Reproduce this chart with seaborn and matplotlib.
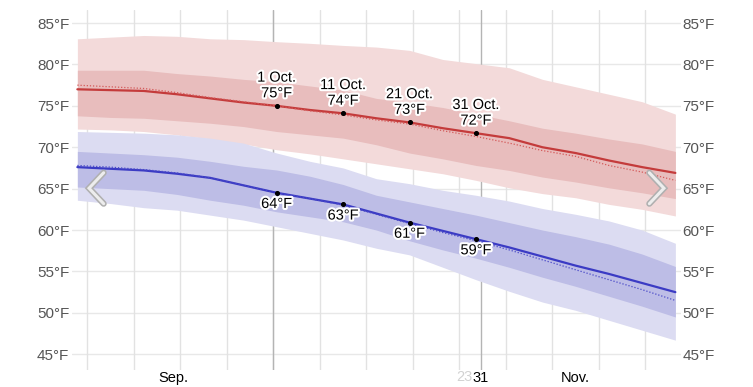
import numpy as np
import pandas as pd
import matplotlib
matplotlib.use("Agg")
import matplotlib.pyplot as plt
import matplotlib.patheffects as pe
import seaborn as sns

# day 0 = 1 Sep, one value every 5 days up to 30 Nov
days = [0, 5, 10, 15, 20, 25, 30, 35, 40, 45, 50, 55, 60, 65, 70, 75, 80, 85, 90]

hi_p90 = [83.1, 83.3, 83.5, 83.4, 83.1, 83.0, 82.75, 82.55, 82.3, 82.1, 81.7, 80.6, 80.1, 79.6, 78.2, 77.3, 76.4, 75.5, 74.0]
hi_p75 = [79.3, 79.3, 79.3, 78.9, 78.6, 78.2, 77.9, 77.4, 76.9, 75.9, 75.4, 74.8, 74.0, 73.2, 72.3, 71.7, 71.0, 70.4, 69.5]
hi_avg = [77.0, 76.9, 76.8, 76.4, 75.9, 75.4, 75.0, 74.5, 74.1, 73.5, 73.0, 72.3, 71.7, 71.1, 70.0, 69.3, 68.4, 67.6, 66.9]
hi_old = [77.5, 77.3, 77.1, 76.6, 76.0, 75.5, 75.0, 74.4, 73.9, 73.3, 72.8, 72.0, 71.3, 70.5, 69.6, 68.9, 67.8, 67.0, 66.0]
hi_p25 = [73.8, 73.6, 73.5, 73.2, 72.9, 72.5, 71.9, 71.5, 71.1, 70.3, 69.3, 68.6, 67.8, 67.2, 66.4, 65.8, 65.1, 64.5, 63.8]
hi_p10 = [72.2, 72.1, 71.9, 71.5, 71.0, 70.4, 69.7, 69.2, 68.6, 68.0, 67.4, 66.8, 66.0, 65.1, 64.4, 63.9, 63.1, 62.5, 61.7]

lo_p90 = [71.9, 71.8, 71.7, 71.5, 71.1, 70.5, 69.3, 68.3, 67.5, 66.2, 65.6, 64.8, 64.2, 63.5, 62.6, 61.9, 61.1, 60.0, 58.4]
lo_p75 = [69.5, 69.3, 69.1, 68.8, 68.3, 67.7, 67.25, 66.5, 65.5, 64.2, 63.4, 62.6, 61.8, 60.9, 60.0, 59.2, 58.3, 57.1, 55.6]
lo_avg = [67.6, 67.4, 67.2, 66.8, 66.3, 65.4, 64.5, 63.8, 63.1, 62.0, 60.9, 59.9, 58.9, 57.9, 56.8, 55.7, 54.7, 53.6, 52.5]
lo_old = [67.8, 67.6, 67.3, 66.9, 66.3, 65.4, 64.5, 63.8, 63.0, 61.9, 60.8, 59.7, 58.7, 57.6, 56.4, 55.2, 54.0, 52.8, 51.5]
lo_p25 = [65.2, 65.0, 64.8, 64.3, 63.6, 63.0, 62.2, 61.6, 61.0, 60.0, 58.7, 57.6, 56.6, 55.5, 54.3, 53.2, 52.0, 50.8, 49.5]
lo_p10 = [63.6, 63.2, 62.7, 62.4, 61.8, 61.2, 60.4, 59.6, 58.8, 57.8, 57.0, 55.5, 54.0, 52.6, 51.3, 50.3, 49.1, 47.9, 46.7]

label_days = [30, 40, 50, 60]
label_dates = ["1 Oct.", "11 Oct.", "21 Oct.", "31 Oct."]

y_ticks = [45, 50, 55, 60, 65, 70, 75, 80, 85]
y_labels = [f"{t}°F" for t in y_ticks]
week_lines = [1.5 + 7 * k for k in range(13)]
dark_lines = [29.5, 60.7]
month_ticks = [14.5, 75]
month_labels = ["Sep.", "Nov."]

df = pd.DataFrame({"day": days, "hi": hi_avg, "hi_old": hi_old, "lo": lo_avg, "lo_old": lo_old})

sns.set_theme(style="white")
plt.rcParams["font.family"] = ["Liberation Sans", "DejaVu Sans"]

fig = plt.figure(figsize=(7.53, 3.87), dpi=100)
ax = fig.add_axes([0.0956, 0.044, 0.8088, 0.930])

for s in ax.spines.values():
    s.set_visible(False)

# grid
for t in y_ticks:
    ax.axhline(t, color="#e8e8e8", lw=1, zorder=0)
for d in week_lines:
    ax.axvline(d, color="#e2e2e2", lw=1, zorder=0)
for d in dark_lines:
    ax.axvline(d, color="#b4b4b4", lw=1, zorder=0)

# bands
ax.fill_between(days, hi_p10, hi_p90, color="#f3dada", lw=0, zorder=1)
ax.fill_between(days, hi_p25, hi_p75, color="#e8bdbd", lw=0, zorder=1)
ax.fill_between(days, lo_p10, lo_p90, color="#dcdcf2", lw=0, zorder=1)
ax.fill_between(days, lo_p25, lo_p75, color="#bdbde6", lw=0, zorder=1)

# lines
sns.lineplot(data=df, x="day", y="hi", ax=ax, color="#c43b3b", lw=1.6, zorder=3)
sns.lineplot(data=df, x="day", y="hi_old", ax=ax, color="#d45a5a", lw=0.9, ls=(0, (1, 1.5)), zorder=3)
sns.lineplot(data=df, x="day", y="lo", ax=ax, color="#3b3bc4", lw=1.6, zorder=3)
sns.lineplot(data=df, x="day", y="lo_old", ax=ax, color="#4a4ac8", lw=0.9, ls=(0, (1, 1.5)), zorder=3)

# annotated points
halo = [pe.withStroke(linewidth=3, foreground="white")]
for d, lab in zip(label_days, label_dates):
    i = days.index(d)
    ax.scatter([d], [hi_avg[i]], s=7, color="black", zorder=5)
    ax.scatter([d], [lo_avg[i]], s=7, color="black", zorder=5)
    ax.annotate(f"{lab}\n{round(hi_avg[i])}°F", (d, hi_avg[i]), xytext=(0, 4),
                textcoords="offset points", ha="center", va="bottom", fontsize=10.5,
                color="black", linespacing=1.15, path_effects=halo, zorder=6)
    ax.annotate(f"{round(lo_avg[i])}°F", (d, lo_avg[i]), xytext=(0, -3),
                textcoords="offset points", ha="center", va="top", fontsize=10.5,
                color="black", path_effects=halo, zorder=6)

# nav chevrons (UI decoration)
for xs in ([0.052, 0.028, 0.052], [0.948, 0.972, 0.948]):
    ax.plot(xs, [0.548, 0.505, 0.462], transform=ax.transAxes, color="#b0b0b0", lw=4.5,
            solid_capstyle="round", solid_joinstyle="miter", zorder=7)
    ax.plot(xs, [0.548, 0.505, 0.462], transform=ax.transAxes, color="#ededed", lw=2.2,
            solid_capstyle="round", solid_joinstyle="miter", zorder=8)

ax.set_xlim(-0.81, 90.85)
ax.set_ylim(43.1, 86.57)
ax.set_yticks(y_ticks)
ax.set_yticklabels(y_labels)
ax.set_xticks(month_ticks + [60.7])
ax.set_xticklabels(month_labels + ["31"])
ax.tick_params(axis="x", length=0, pad=1, labelsize=10.5, labelcolor="black")
ax.tick_params(axis="y", length=0, pad=2, labelsize=11, labelcolor="#555555")
ax.text(59.4, 43.1, "23", ha="right", va="top", fontsize=10.5, color="#d2d2d2",
        transform=ax.transData)
ax.set_xlabel("")
ax.set_ylabel("")

ax2 = ax.twinx()
for s in ax2.spines.values():
    s.set_visible(False)
ax2.set_ylim(ax.get_ylim())
ax2.set_yticks(y_ticks)
ax2.set_yticklabels(y_labels)
ax2.tick_params(axis="y", length=0, pad=1, labelsize=11, labelcolor="#555555")

fig.savefig("out.png", dpi=100)
